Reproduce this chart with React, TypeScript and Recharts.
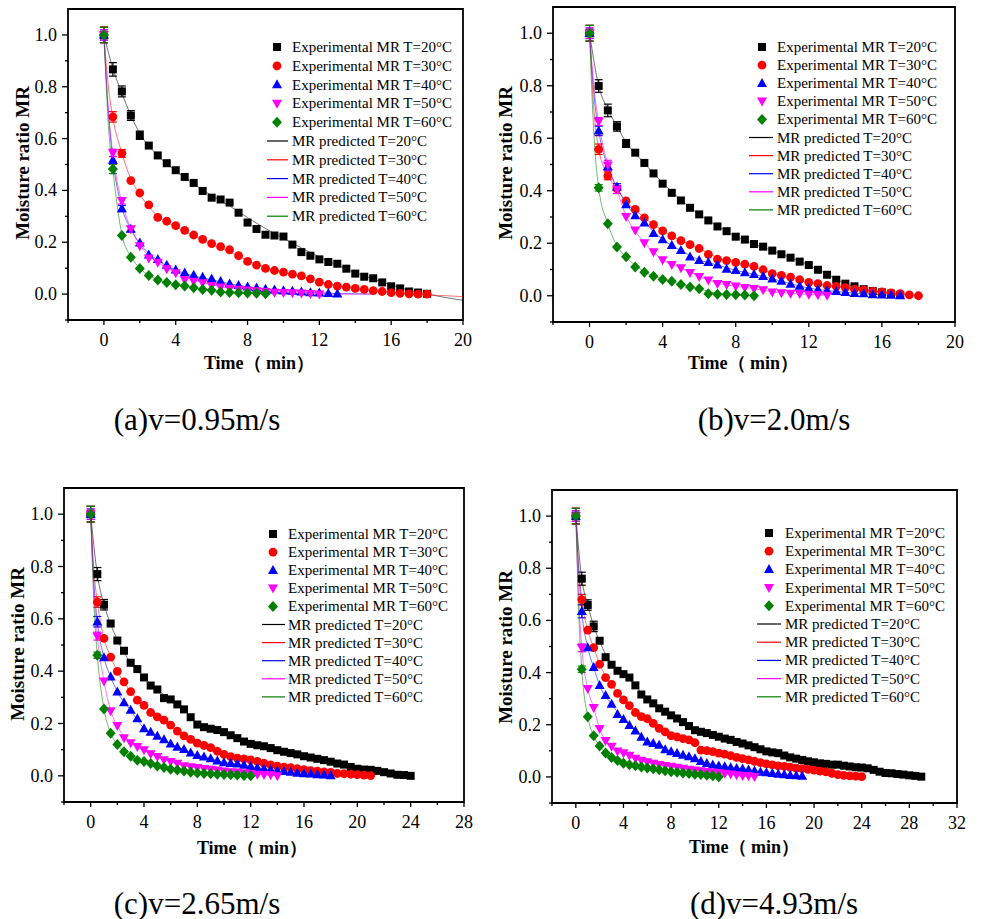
import React from "react";
import { ComposedChart, XAxis, YAxis, Scatter, Line, ErrorBar, ReferenceArea } from "recharts";

const FONT = '"Liberation Serif", "Times New Roman", serif';

// sampling times of the experimental points (min)
const TIME = [
  0, 0.5, 1, 1.5, 2, 2.5, 3, 3.5, 4, 4.5, 5, 5.5, 6, 6.5, 7, 7.5, 8, 8.5, 9, 9.5,
  10, 10.5, 11, 11.5, 12, 12.5, 13, 13.5, 14, 14.5, 15, 15.5, 16, 16.5, 17, 17.5,
  18, 18.5, 19, 19.5, 20, 20.5, 21, 21.5, 22, 22.5, 23, 23.5, 24, 24.5, 25, 25.5,
  26, 26.5, 27, 27.5, 28, 28.5, 29,
];

const TEMPS = ["20", "30", "40", "50", "60"];
const COLORS = ["#000000", "#ff0000", "#0000ff", "#ff00ff", "#008000"];
const SHAPES = ["square", "circle", "up", "down", "diamond"];

const Y_TICKS = [-0.1, 0, 0.1, 0.2, 0.3, 0.4, 0.5, 0.6, 0.7, 0.8, 0.9, 1.0];
const X_TICKS_20 = [-2, 0, 2, 4, 6, 8, 10, 12, 14, 16, 18, 20];
const X_TICKS_28 = [-2, 0, 2, 4, 6, 8, 10, 12, 14, 16, 18, 20, 22, 24, 26, 28];
const X_TICKS_32 = [-2, 0, 2, 4, 6, 8, 10, 12, 14, 16, 18, 20, 22, 24, 26, 28, 30, 32];

// (a) v=0.95 m/s
const A20 = [1.0, 0.867, 0.782, 0.689, 0.613, 0.573, 0.535, 0.505, 0.478, 0.452, 0.429, 0.398, 0.372, 0.365, 0.353, 0.314, 0.276, 0.251, 0.229, 0.226, 0.222, 0.191, 0.162, 0.148, 0.134, 0.124, 0.117, 0.098, 0.079, 0.067, 0.061, 0.045, 0.03, 0.022, 0.01, 0.006, 0.001];
const A30 = [1.0, 0.684, 0.543, 0.438, 0.39, 0.344, 0.296, 0.281, 0.264, 0.246, 0.228, 0.211, 0.195, 0.183, 0.171, 0.148, 0.126, 0.112, 0.099, 0.091, 0.085, 0.077, 0.07, 0.059, 0.046, 0.037, 0.031, 0.027, 0.022, 0.018, 0.013, 0.01, 0.006, 0.003, 0.001, 0.0, 0.0];
const A40 = [1.0, 0.517, 0.33, 0.251, 0.198, 0.152, 0.134, 0.112, 0.094, 0.082, 0.073, 0.066, 0.059, 0.049, 0.04, 0.034, 0.028, 0.024, 0.019, 0.017, 0.014, 0.012, 0.009, 0.006, 0.005, 0.003, 0.001];
const A50 = [1.0, 0.545, 0.36, 0.251, 0.186, 0.138, 0.122, 0.097, 0.082, 0.055, 0.049, 0.043, 0.032, 0.027, 0.022, 0.018, 0.015, 0.012, 0.009, 0.006, 0.005, 0.004, 0.003, 0.001, 0.0];
const A60 = [1.0, 0.483, 0.226, 0.142, 0.099, 0.072, 0.054, 0.045, 0.036, 0.031, 0.024, 0.018, 0.015, 0.008, 0.006, 0.005, 0.004, 0.003, 0.001];
const A_ERR = [[0.03, 0.026, 0.021, 0.019, 0.016], [0.03, 0.02, 0.015], [0.02, 0.014, 0.012, 0.01], [0.02, 0.014, 0.012, 0.01], [0.03, 0.018]];
const A_FIT20 = [[0, 1], [0.5, 0.87], [1, 0.775], [1.5, 0.69], [2, 0.62], [3, 0.535], [4, 0.475], [5, 0.425], [6, 0.38], [7, 0.34], [8, 0.295], [9, 0.253], [10, 0.215], [11, 0.178], [12, 0.143], [13, 0.112], [14, 0.083], [15, 0.058], [16, 0.035], [17, 0.015], [18, 0.0], [19, -0.013], [20, -0.024]];
const A_FIT30 = [[0, 1], [0.25, 0.8], [0.5, 0.68], [1, 0.545], [1.5, 0.445], [2, 0.385], [3, 0.3], [4, 0.26], [5, 0.225], [6, 0.192], [7, 0.163], [8, 0.13], [9, 0.102], [10, 0.083], [11, 0.067], [12, 0.048], [13, 0.032], [14, 0.021], [15, 0.013], [16, 0.006], [17, 0.001], [18, -0.003], [19, -0.006], [20, -0.01]];
const A_FIT40 = [[0, 1], [0.25, 0.7], [0.5, 0.52], [1, 0.335], [1.5, 0.25], [2, 0.195], [3, 0.13], [4, 0.093], [5, 0.07], [6, 0.055], [7, 0.04], [8, 0.028], [9, 0.019], [10, 0.013], [11, 0.008], [12, 0.005], [13, 0.002], [14, 0.001], [15, 0]];
const A_FIT50 = [[0, 1], [0.25, 0.71], [0.5, 0.54], [1, 0.355], [1.5, 0.255], [2, 0.19], [3, 0.123], [4, 0.085], [5, 0.055], [6, 0.036], [7, 0.024], [8, 0.016], [9, 0.01], [10, 0.006], [11, 0.003], [12, 0.001], [13, 0], [15, 0]];
const A_FIT60 = [[0, 1], [0.25, 0.65], [0.5, 0.48], [1, 0.23], [1.5, 0.145], [2, 0.1], [3, 0.056], [4, 0.037], [5, 0.025], [6, 0.015], [7, 0.007], [8, 0.004], [9, 0.001], [10, 0], [12, 0]];

// (b) v=2.0 m/s
const B20 = [1.0, 0.799, 0.706, 0.645, 0.58, 0.545, 0.506, 0.466, 0.427, 0.392, 0.363, 0.335, 0.31, 0.287, 0.264, 0.246, 0.225, 0.214, 0.197, 0.187, 0.172, 0.158, 0.145, 0.13, 0.117, 0.099, 0.08, 0.061, 0.046, 0.036, 0.025, 0.018, 0.013, 0.008, 0.003];
const B30 = [1.0, 0.558, 0.457, 0.408, 0.361, 0.329, 0.297, 0.271, 0.247, 0.228, 0.21, 0.195, 0.18, 0.158, 0.139, 0.134, 0.127, 0.12, 0.112, 0.099, 0.084, 0.078, 0.071, 0.061, 0.051, 0.046, 0.039, 0.036, 0.031, 0.025, 0.022, 0.018, 0.015, 0.011, 0.008, 0.003, 0.0];
const B40 = [1.0, 0.628, 0.492, 0.415, 0.347, 0.306, 0.278, 0.238, 0.214, 0.192, 0.173, 0.148, 0.135, 0.127, 0.118, 0.102, 0.097, 0.088, 0.082, 0.074, 0.065, 0.056, 0.045, 0.037, 0.028, 0.024, 0.02, 0.017, 0.013, 0.009, 0.008, 0.005, 0.004, 0.003, 0.001];
const B50 = [1.0, 0.664, 0.497, 0.405, 0.301, 0.25, 0.201, 0.167, 0.136, 0.118, 0.106, 0.088, 0.073, 0.059, 0.046, 0.042, 0.036, 0.031, 0.027, 0.022, 0.014, 0.011, 0.009, 0.008, 0.005, 0.003, 0.001];
const B60 = [1.0, 0.411, 0.274, 0.186, 0.149, 0.11, 0.09, 0.074, 0.062, 0.055, 0.043, 0.033, 0.027, 0.008, 0.006, 0.005, 0.004, 0.003, 0.0];
const B_ERR = [[0.03, 0.024, 0.024, 0.018, 0.015], [0.03, 0.02, 0.015], [0.02, 0.018, 0.015, 0.012], [0.02, 0.015, 0.019, 0.015], [0.03, 0.012]];
const B_FIT20 = [[0, 1], [0.5, 0.8], [1, 0.71], [1.5, 0.645], [2, 0.585], [3, 0.505], [4, 0.43], [5, 0.365], [6, 0.31], [7, 0.265], [8, 0.226], [9, 0.197], [10, 0.172], [11, 0.145], [12, 0.117], [13, 0.082], [14, 0.047], [15, 0.026], [16, 0.013], [17, 0.003]];
const B_FIT30 = [[0, 1], [0.25, 0.7], [0.5, 0.56], [1, 0.46], [1.5, 0.405], [2, 0.36], [3, 0.298], [4, 0.248], [5, 0.21], [6, 0.18], [7, 0.145], [8, 0.127], [9, 0.11], [10, 0.086], [11, 0.07], [12, 0.051], [13, 0.04], [14, 0.03], [15, 0.022], [16, 0.014], [17, 0.007], [18, 0.0]];
const B_FIT40 = [[0, 1], [0.25, 0.76], [0.5, 0.63], [1, 0.49], [1.5, 0.415], [2, 0.35], [3, 0.278], [4, 0.215], [5, 0.172], [6, 0.137], [7, 0.117], [8, 0.097], [9, 0.082], [10, 0.065], [11, 0.046], [12, 0.029], [13, 0.02], [14, 0.013], [15, 0.008], [16, 0.004], [17, 0.001]];
const B_FIT50 = [[0, 1], [0.25, 0.79], [0.5, 0.66], [1, 0.5], [1.5, 0.4], [2, 0.305], [3, 0.203], [4, 0.138], [5, 0.105], [6, 0.074], [7, 0.048], [8, 0.036], [9, 0.027], [10, 0.015], [11, 0.009], [12, 0.005], [13, 0.001]];
const B_FIT60 = [[0, 1], [0.25, 0.6], [0.5, 0.41], [1, 0.275], [1.5, 0.19], [2, 0.148], [3, 0.092], [4, 0.063], [5, 0.044], [6, 0.026], [7, 0.009], [8, 0.004], [9, 0.0]];

// (c) v=2.65 m/s
const C20 = [1.0, 0.771, 0.654, 0.582, 0.517, 0.478, 0.432, 0.408, 0.376, 0.345, 0.33, 0.297, 0.292, 0.273, 0.254, 0.224, 0.196, 0.186, 0.18, 0.175, 0.167, 0.155, 0.144, 0.131, 0.122, 0.117, 0.113, 0.106, 0.098, 0.092, 0.087, 0.082, 0.075, 0.07, 0.065, 0.06, 0.054, 0.047, 0.043, 0.034, 0.027, 0.024, 0.023, 0.019, 0.014, 0.009, 0.004, 0.003, 0.0];
const C30 = [1.0, 0.664, 0.525, 0.454, 0.399, 0.359, 0.322, 0.289, 0.269, 0.242, 0.225, 0.213, 0.194, 0.171, 0.153, 0.139, 0.125, 0.116, 0.108, 0.094, 0.082, 0.073, 0.068, 0.065, 0.061, 0.055, 0.048, 0.042, 0.037, 0.033, 0.031, 0.027, 0.024, 0.02, 0.018, 0.015, 0.013, 0.009, 0.008, 0.006, 0.005, 0.003, 0.001];
const C40 = [1.0, 0.589, 0.452, 0.378, 0.321, 0.28, 0.251, 0.219, 0.181, 0.167, 0.152, 0.139, 0.122, 0.11, 0.101, 0.088, 0.078, 0.073, 0.066, 0.057, 0.051, 0.048, 0.046, 0.041, 0.036, 0.031, 0.027, 0.023, 0.019, 0.017, 0.014, 0.011, 0.009, 0.008, 0.005, 0.004, 0.001];
const C50 = [1.0, 0.534, 0.362, 0.248, 0.192, 0.145, 0.126, 0.111, 0.099, 0.084, 0.073, 0.061, 0.054, 0.047, 0.038, 0.034, 0.031, 0.027, 0.024, 0.022, 0.018, 0.015, 0.014, 0.011, 0.009, 0.005, 0.004, 0.003, 0.0];
const C60 = [1.0, 0.461, 0.255, 0.163, 0.12, 0.092, 0.075, 0.06, 0.055, 0.047, 0.038, 0.032, 0.025, 0.022, 0.018, 0.014, 0.011, 0.009, 0.008, 0.006, 0.005, 0.004, 0.003, 0.001, 0.0];
const C_ERR = [[0.03, 0.025, 0.02], [0.03, 0.02], [0.02, 0.02], [0.02, 0.015], [0.03, 0.012]];
const C_FIT20 = [[0, 1], [0.5, 0.77], [1, 0.655], [1.5, 0.58], [2, 0.52], [3, 0.432], [4, 0.376], [5, 0.33], [6, 0.29], [7, 0.252], [8, 0.2], [9, 0.18], [10, 0.166], [11, 0.143], [12, 0.122], [13, 0.112], [14, 0.098], [16, 0.075], [18, 0.054], [20, 0.028], [22, 0.014], [23, 0.005], [24, 0.0]];
const C_FIT30 = [[0, 1], [0.25, 0.78], [0.5, 0.665], [1, 0.525], [1.5, 0.455], [2, 0.4], [3, 0.322], [4, 0.268], [5, 0.226], [6, 0.193], [7, 0.153], [8, 0.125], [9, 0.107], [10, 0.083], [11, 0.068], [12, 0.06], [13, 0.048], [14, 0.037], [15, 0.03], [16, 0.024], [17, 0.018], [18, 0.013], [19, 0.008], [20, 0.005], [21, 0.001]];
const C_FIT40 = [[0, 1], [0.25, 0.73], [0.5, 0.59], [1, 0.452], [1.5, 0.378], [2, 0.322], [3, 0.25], [4, 0.182], [5, 0.152], [6, 0.122], [7, 0.1], [8, 0.078], [9, 0.065], [10, 0.051], [11, 0.045], [12, 0.036], [13, 0.027], [14, 0.019], [15, 0.014], [16, 0.009], [17, 0.005], [18, 0.001]];
const C_FIT50 = [[0, 1], [0.25, 0.7], [0.5, 0.535], [1, 0.362], [1.5, 0.25], [2, 0.19], [3, 0.127], [4, 0.099], [5, 0.073], [6, 0.054], [7, 0.038], [8, 0.031], [9, 0.024], [10, 0.018], [11, 0.014], [12, 0.009], [13, 0.004], [14, 0.0]];
const C_FIT60 = [[0, 1], [0.25, 0.65], [0.5, 0.46], [1, 0.256], [1.5, 0.163], [2, 0.12], [3, 0.075], [4, 0.055], [5, 0.038], [6, 0.025], [7, 0.018], [8, 0.011], [9, 0.008], [10, 0.005], [11, 0.003], [12, 0.0]];

// (d) v=4.93 m/s
const D20 = [1.0, 0.76, 0.659, 0.577, 0.522, 0.459, 0.43, 0.407, 0.394, 0.381, 0.351, 0.316, 0.297, 0.282, 0.263, 0.25, 0.236, 0.224, 0.21, 0.195, 0.179, 0.173, 0.168, 0.161, 0.154, 0.147, 0.142, 0.134, 0.128, 0.121, 0.114, 0.106, 0.098, 0.094, 0.091, 0.082, 0.075, 0.07, 0.065, 0.06, 0.056, 0.052, 0.05, 0.047, 0.047, 0.043, 0.04, 0.037, 0.036, 0.033, 0.027, 0.02, 0.015, 0.014, 0.011, 0.009, 0.006, 0.004, 0.001];
const D30 = [1.0, 0.68, 0.563, 0.496, 0.432, 0.381, 0.355, 0.32, 0.295, 0.273, 0.247, 0.231, 0.223, 0.205, 0.186, 0.173, 0.158, 0.153, 0.147, 0.142, 0.131, 0.103, 0.101, 0.097, 0.091, 0.087, 0.082, 0.075, 0.07, 0.065, 0.06, 0.055, 0.05, 0.046, 0.042, 0.04, 0.037, 0.034, 0.032, 0.029, 0.026, 0.022, 0.019, 0.014, 0.009, 0.006, 0.004, 0.003, 0.001];
const D40 = [1.0, 0.635, 0.496, 0.42, 0.351, 0.313, 0.279, 0.24, 0.221, 0.198, 0.177, 0.153, 0.135, 0.129, 0.122, 0.105, 0.097, 0.091, 0.084, 0.078, 0.07, 0.06, 0.052, 0.046, 0.043, 0.04, 0.036, 0.033, 0.031, 0.027, 0.023, 0.019, 0.017, 0.014, 0.011, 0.009, 0.006, 0.005, 0.003];
const D50 = [1.0, 0.495, 0.338, 0.265, 0.185, 0.139, 0.117, 0.099, 0.092, 0.082, 0.071, 0.063, 0.057, 0.052, 0.047, 0.043, 0.04, 0.036, 0.032, 0.029, 0.026, 0.023, 0.02, 0.018, 0.015, 0.013, 0.01, 0.008, 0.005, 0.004, 0.001];
const D60 = [1.0, 0.413, 0.231, 0.158, 0.119, 0.092, 0.074, 0.063, 0.052, 0.047, 0.043, 0.038, 0.034, 0.031, 0.027, 0.024, 0.02, 0.018, 0.015, 0.013, 0.01, 0.009, 0.006, 0.004, 0.001];
const D_ERR = [[0.03, 0.025, 0.02, 0.02], [0.03, 0.02], [0.02, 0.025], [0.02, 0.015], [0.03, 0.012]];
const D_FIT20 = [[0, 1], [0.5, 0.76], [1, 0.66], [1.5, 0.578], [2, 0.52], [3, 0.43], [4, 0.394], [5, 0.35], [6, 0.297], [7, 0.263], [8, 0.236], [9, 0.21], [10, 0.179], [11, 0.168], [12, 0.154], [13, 0.142], [14, 0.128], [15, 0.114], [16, 0.098], [17, 0.09], [18, 0.075], [19, 0.065], [20, 0.056], [21, 0.05], [22, 0.047], [23, 0.04], [24, 0.036], [25, 0.027], [26, 0.015], [27, 0.011], [28, 0.006], [29, 0.001]];
const D_FIT30 = [[0, 1], [0.25, 0.8], [0.5, 0.68], [1, 0.563], [1.5, 0.496], [2, 0.432], [3, 0.355], [4, 0.295], [5, 0.247], [6, 0.223], [7, 0.186], [8, 0.158], [9, 0.147], [10, 0.13], [11, 0.101], [12, 0.091], [13, 0.082], [14, 0.07], [15, 0.06], [16, 0.05], [17, 0.042], [18, 0.037], [19, 0.032], [20, 0.026], [21, 0.019], [22, 0.009], [23, 0.004], [24, 0.001]];
const D_FIT40 = [[0, 1], [0.25, 0.78], [0.5, 0.635], [1, 0.496], [1.5, 0.42], [2, 0.351], [3, 0.279], [4, 0.221], [5, 0.177], [6, 0.135], [7, 0.122], [8, 0.097], [9, 0.084], [10, 0.07], [11, 0.052], [12, 0.043], [13, 0.036], [14, 0.031], [15, 0.023], [16, 0.017], [17, 0.011], [18, 0.006], [19, 0.003]];
const D_FIT50 = [[0, 1], [0.25, 0.68], [0.5, 0.495], [1, 0.338], [1.5, 0.265], [2, 0.185], [3, 0.117], [4, 0.092], [5, 0.071], [6, 0.057], [7, 0.047], [8, 0.04], [9, 0.032], [10, 0.026], [11, 0.02], [12, 0.015], [13, 0.01], [14, 0.005], [15, 0.001]];
const D_FIT60 = [[0, 1], [0.25, 0.62], [0.5, 0.413], [1, 0.231], [1.5, 0.158], [2, 0.119], [3, 0.074], [4, 0.052], [5, 0.043], [6, 0.034], [7, 0.027], [8, 0.02], [9, 0.015], [10, 0.01], [11, 0.006], [12, 0.001]];

const PANELS = [
  {
    id: "a", caption: "(a)v=0.95m/s", xMax: 20, xTicks: X_TICKS_20,
    exp: [A20, A30, A40, A50, A60], err: A_ERR, fit: [A_FIT20, A_FIT30, A_FIT40, A_FIT50, A_FIT60],
    box: { left: 68, top: 9, w: 395, h: 311 },
    legend: { mx: 277, tx: 292, l1: 267, l2: 288, y0: 47, dy: 18.8 },
    yTitle: [22, 163], xTitle: [259, 363], cap: [197, 419],
  },
  {
    id: "b", caption: "(b)v=2.0m/s", xMax: 20, xTicks: X_TICKS_20,
    exp: [B20, B30, B40, B50, B60], err: B_ERR, fit: [B_FIT20, B_FIT30, B_FIT40, B_FIT50, B_FIT60],
    box: { left: 553, top: 7, w: 402, h: 315 },
    legend: { mx: 762, tx: 777, l1: 749, l2: 773, y0: 47, dy: 18.1 },
    yTitle: [505, 163], xTitle: [743, 363], cap: [774, 419],
  },
  {
    id: "c", caption: "(c)v=2.65m/s", xMax: 28, xTicks: X_TICKS_28,
    exp: [C20, C30, C40, C50, C60], err: C_ERR, fit: [C_FIT20, C_FIT30, C_FIT40, C_FIT50, C_FIT60],
    box: { left: 64, top: 488, w: 400, h: 314 },
    legend: { mx: 273, tx: 288, l1: 262, l2: 285, y0: 534, dy: 18.1 },
    yTitle: [17, 644], xTitle: [252, 848], cap: [197, 903],
  },
  {
    id: "d", caption: "(d)v=4.93m/s", xMax: 32, xTicks: X_TICKS_32,
    exp: [D20, D30, D40, D50, D60], err: D_ERR, fit: [D_FIT20, D_FIT30, D_FIT40, D_FIT50, D_FIT60],
    box: { left: 552, top: 490, w: 405, h: 313 },
    legend: { mx: 769, tx: 785, l1: 757, l2: 781, y0: 533, dy: 18.2 },
    yTitle: [505, 647], xTitle: [744, 847], cap: [774, 903],
  },
];

function Marker({ kind, cx, cy, fill }: { kind: string; cx: number; cy: number; fill: string }) {
  if (cx == null || cy == null) return null;
  switch (kind) {
    case "square":
      return <rect x={cx - 4} y={cy - 4} width={8} height={8} fill={fill} />;
    case "circle":
      return <circle cx={cx} cy={cy} r={4.4} fill={fill} />;
    case "up":
      return <polygon points={`${cx},${cy - 5.3} ${cx + 5},${cy + 3.7} ${cx - 5},${cy + 3.7}`} fill={fill} />;
    case "down":
      return <polygon points={`${cx - 5},${cy - 3.7} ${cx + 5},${cy - 3.7} ${cx},${cy + 5.3}`} fill={fill} />;
    default:
      return <polygon points={`${cx},${cy - 5.5} ${cx + 5},${cy} ${cx},${cy + 5.5} ${cx - 5},${cy}`} fill={fill} />;
  }
}

function XTick(props: any) {
  const { x, y, payload } = props;
  const v = payload.value;
  const major = v >= 0 && v % 4 === 0;
  return (
    <g>
      <line x1={x} x2={x} y1={y} y2={y + (major ? 5 : 3)} stroke="#000" strokeWidth={1.3} />
      {major && (
        <text x={x} y={y + 20} textAnchor="middle" dominantBaseline="central" fontSize={18} fontFamily={FONT} fill="#000">
          {v}
        </text>
      )}
    </g>
  );
}

function YTick(props: any) {
  const { x, y, payload } = props;
  const v = payload.value;
  const major = v >= 0 && Math.round(v * 10) % 2 === 0;
  return (
    <g>
      <line x1={x - (major ? 6 : 3)} x2={x} y1={y} y2={y} stroke="#000" strokeWidth={1.3} />
      {major && (
        <text x={x - 11} y={y} textAnchor="end" dominantBaseline="central" fontSize={18} fontFamily={FONT} fill="#000">
          {v.toFixed(1)}
        </text>
      )}
    </g>
  );
}

function Panel({ p }: { p: (typeof PANELS)[number] }) {
  const W = p.box.w + 70;
  const H = p.box.h + 50;
  return (
    <div style={{ position: "absolute", left: p.box.left - 60, top: p.box.top - 10 }}>
      <ComposedChart width={W} height={H} margin={{ top: 10, right: 10, bottom: 0, left: 0 }}>
        <XAxis
          type="number" dataKey="x" domain={[-2, p.xMax]} ticks={p.xTicks} interval={0}
          tickSize={0} tickMargin={0} axisLine={false} height={40} allowDataOverflow
          tick={(t: any) => <XTick {...t} />}
        />
        <YAxis
          type="number" dataKey="y" domain={[-0.1, 1.1]} ticks={Y_TICKS} interval={0}
          tickSize={0} tickMargin={0} axisLine={false} width={60} allowDataOverflow
          tick={(t: any) => <YTick {...t} />}
        />
        <ReferenceArea x1={-2} x2={p.xMax} y1={-0.1} y2={1.1} fill="none" stroke="#000" strokeWidth={1.8} />
        {p.exp.map((vals, i) => (
          <Scatter
            key={`s${i}`}
            data={vals.map((v, j) => ({ x: TIME[j], y: v, e: p.err[i][j] }))}
            fill={COLORS[i]}
            isAnimationActive={false}
            shape={(s: any) => <Marker kind={SHAPES[i]} cx={s.cx} cy={s.cy} fill={COLORS[i]} />}
          >
            <ErrorBar dataKey="e" direction="y" width={4} stroke={COLORS[i]} strokeWidth={1.2} />
          </Scatter>
        ))}
        {p.fit.map((pts, i) => (
          <Line
            key={`l${i}`}
            data={pts.map(([x, y]) => ({ x, y }))}
            dataKey="y"
            type="monotone"
            dot={false}
            activeDot={false}
            stroke={COLORS[i]}
            strokeWidth={1}
            strokeOpacity={0.55}
            isAnimationActive={false}
          />
        ))}
      </ComposedChart>
    </div>
  );
}

function Overlay() {
  return (
    <svg width={981} height={919} style={{ position: "absolute", left: 0, top: 0, pointerEvents: "none" }}>
      {PANELS.map((p) => (
        <g key={p.id} fontFamily={FONT} fill="#000">
          {TEMPS.map((t, i) => (
            <g key={`e${t}`}>
              <Marker kind={SHAPES[i]} cx={p.legend.mx} cy={p.legend.y0 + i * p.legend.dy} fill={COLORS[i]} />
              <text x={p.legend.tx} y={p.legend.y0 + i * p.legend.dy} dominantBaseline="central" fontSize={15}>
                {`Experimental MR T=${t}°C`}
              </text>
            </g>
          ))}
          {TEMPS.map((t, i) => {
            const y = p.legend.y0 + (i + 5) * p.legend.dy;
            return (
              <g key={`f${t}`}>
                <line x1={p.legend.l1} x2={p.legend.l2} y1={y} y2={y} stroke={COLORS[i]} strokeWidth={1.2} />
                <text x={p.legend.tx} y={y} dominantBaseline="central" fontSize={15}>
                  {`MR predicted T=${t}°C`}
                </text>
              </g>
            );
          })}
          <text
            x={p.yTitle[0]} y={p.yTitle[1]} textAnchor="middle" dominantBaseline="central"
            fontSize={19} fontWeight="bold" transform={`rotate(-90 ${p.yTitle[0]} ${p.yTitle[1]})`}
          >
            Moisture ratio MR
          </text>
          <text x={p.xTitle[0]} y={p.xTitle[1]} textAnchor="middle" dominantBaseline="central" fontSize={18} fontWeight="bold">
            Time（ min）
          </text>
          <text x={p.cap[0]} y={p.cap[1]} textAnchor="middle" dominantBaseline="central" fontSize={31}>
            {p.caption}
          </text>
        </g>
      ))}
    </svg>
  );
}

export default function App() {
  return (
    <div style={{ position: "absolute", left: 0, top: 0, width: 981, height: 919, background: "#fff" }}>
      {PANELS.map((p) => (
        <Panel key={p.id} p={p} />
      ))}
      <Overlay />
    </div>
  );
}
